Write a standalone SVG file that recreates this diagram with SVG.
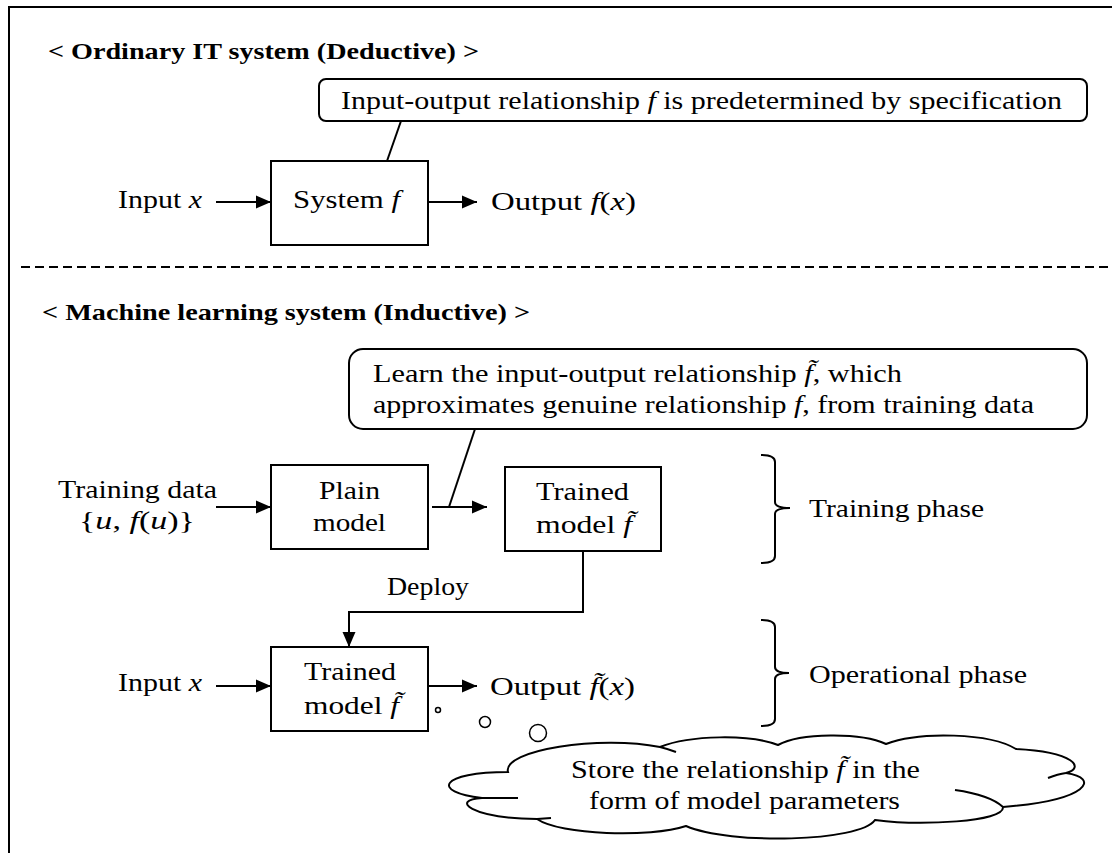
<svg xmlns="http://www.w3.org/2000/svg" width="1112" height="853" viewBox="0 0 1112 853">
<style>
text{font-family:"Liberation Serif","Times New Roman",serif;font-size:25px;fill:#000}
.b{font-weight:bold;font-size:24px}
.i{font-style:italic}
.box{fill:#fff;stroke:#000;stroke-width:2}
.ln{fill:none;stroke:#000;stroke-width:2}
</style>
<defs>
<marker id="ah" markerUnits="userSpaceOnUse" markerWidth="16" markerHeight="14" refX="15" refY="7" orient="auto">
<path d="M0,0.5 L15,7 L0,13.5 z" fill="#000"/>
</marker>
</defs>
<rect width="1112" height="853" fill="#fff"/>
<g id="frame">
<path d="M9,853 V7 H1112" class="ln"/>
<line x1="21" y1="267" x2="1112" y2="267" stroke="#000" stroke-width="2" stroke-dasharray="9 5"/>
</g>
<g id="titles">
<text class="b" x="48" y="59" textLength="431" lengthAdjust="spacingAndGlyphs">&lt; Ordinary IT system (Deductive) &gt;</text>
<text class="b" x="42" y="320" textLength="488" lengthAdjust="spacingAndGlyphs">&lt; Machine learning system (Inductive) &gt;</text>
</g>
<g id="connectors">
<line x1="216" y1="202" x2="271" y2="202" class="ln" marker-end="url(#ah)"/>
<line x1="428" y1="202" x2="477" y2="202" class="ln" marker-end="url(#ah)"/>
<line x1="401" y1="121" x2="387" y2="161" class="ln"/>
<line x1="216" y1="507" x2="271" y2="507" class="ln" marker-end="url(#ah)"/>
<line x1="432" y1="507" x2="487" y2="507" class="ln" marker-end="url(#ah)"/>
<line x1="475" y1="429" x2="449" y2="507" class="ln"/>
<path d="M583,551 V612 H349 V647" class="ln" marker-end="url(#ah)"/>
<line x1="216" y1="686" x2="271" y2="686" class="ln" marker-end="url(#ah)"/>
<line x1="428" y1="686" x2="477" y2="686" class="ln" marker-end="url(#ah)"/>
</g>
<g id="callout1">
<rect x="319" y="79" width="768" height="42" rx="7" class="box"/>
<text x="341" y="109" textLength="721" lengthAdjust="spacingAndGlyphs">Input-output relationship <tspan class="i">f</tspan>  is predetermined by specification</text>
</g>
<g id="input1"><text x="118" y="208" textLength="84" lengthAdjust="spacingAndGlyphs">Input <tspan class="i">x</tspan></text></g>
<g id="system">
<rect x="271" y="161" width="157" height="84" class="box"/>
<text x="293" y="208" textLength="107" lengthAdjust="spacingAndGlyphs">System <tspan class="i">f</tspan></text>
</g>
<g id="output1"><text x="491" y="210" textLength="145" lengthAdjust="spacingAndGlyphs">Output <tspan class="i">f</tspan>(<tspan class="i">x</tspan>)</text></g>
<g id="callout2">
<rect x="349" y="349" width="738" height="80" rx="14" class="box"/>
<text x="373" y="382" textLength="529" lengthAdjust="spacingAndGlyphs">Learn the input-output relationship <tspan class="i">f&#771;</tspan>, which</text>
<text x="373" y="413" textLength="661" lengthAdjust="spacingAndGlyphs">approximates genuine relationship <tspan class="i">f</tspan>, from training data</text>
</g>
<g id="training-data">
<text x="58" y="498" textLength="159" lengthAdjust="spacingAndGlyphs">Training data</text>
<text x="79" y="529" textLength="116" lengthAdjust="spacingAndGlyphs">{<tspan class="i">u</tspan>,   <tspan class="i">f</tspan>(<tspan class="i">u</tspan>)}</text>
</g>
<g id="plain-model">
<rect x="271" y="465" width="157" height="84" class="box"/>
<text x="319" y="499" textLength="61" lengthAdjust="spacingAndGlyphs">Plain</text>
<text x="313" y="531" textLength="73" lengthAdjust="spacingAndGlyphs">model</text>
</g>
<g id="trained-model-1">
<rect x="505" y="467" width="156" height="84" class="box"/>
<text x="536" y="500" textLength="93" lengthAdjust="spacingAndGlyphs">Trained</text>
<text x="536" y="533" textLength="96" lengthAdjust="spacingAndGlyphs">model <tspan class="i">f&#771;</tspan></text>
</g>
<g id="training-phase">
<path d="M761,455 Q775,455 775,462 V502 Q775,508 790,508 Q775,508 775,514 V556 Q775,563 761,563" class="ln"/>
<text x="809" y="517" textLength="175" lengthAdjust="spacingAndGlyphs">Training phase</text>
</g>
<g id="deploy-label"><text x="387" y="595" textLength="82" lengthAdjust="spacingAndGlyphs">Deploy</text></g>
<g id="input2"><text x="118" y="691" textLength="84" lengthAdjust="spacingAndGlyphs">Input <tspan class="i">x</tspan></text></g>
<g id="trained-model-2">
<rect x="271" y="647" width="157" height="84" class="box"/>
<text x="304" y="680" textLength="92" lengthAdjust="spacingAndGlyphs">Trained</text>
<text x="304" y="714" textLength="95" lengthAdjust="spacingAndGlyphs">model <tspan class="i">f&#771;</tspan></text>
</g>
<g id="output2"><text x="490" y="695" textLength="145" lengthAdjust="spacingAndGlyphs">Output <tspan class="i">f&#771;</tspan>(<tspan class="i">x</tspan>)</text></g>
<g id="operational-phase">
<path d="M761,620 Q775,620 775,627 V667 Q775,673 789,673 Q775,673 775,679 V719 Q775,726 761,726" class="ln"/>
<text x="809" y="683" textLength="218" lengthAdjust="spacingAndGlyphs">Operational phase</text>
</g>
<g id="thought-cloud">
<circle cx="438" cy="710" r="2.5" fill="#fff" stroke="#000" stroke-width="1.5"/>
<circle cx="485" cy="722" r="5.5" fill="#fff" stroke="#000" stroke-width="1.5"/>
<circle cx="538" cy="733" r="8.5" fill="#fff" stroke="#000" stroke-width="1.5"/>
<path d="M508,772 C502,750 600,735 660,747 C690,735 750,734 778,745 C800,733 860,732 886,744 C920,731 990,733 1016,749 C1075,752 1085,768 1066,773 C1100,778 1090,800 1003,807 C1005,822 920,826 875,820 C860,842 730,845 686,826 C650,838 560,835 537,819 C470,818 450,800 482,798 C430,792 440,772 508,772 Z" fill="#fff" stroke="#000" stroke-width="2"/>
<path d="M482,798 Q500,798 518,798 M537,819 L551,818 M660,747 Q668,749 676,752 M1066,773 Q1058,774 1048,778 M1003,807 Q990,795 955,790" class="ln"/>
<text x="571" y="778" textLength="349" lengthAdjust="spacingAndGlyphs">Store the relationship <tspan class="i">f&#771;</tspan>  in the</text>
<text x="589" y="809" textLength="311" lengthAdjust="spacingAndGlyphs">form of model parameters</text>
</g>
</svg>
